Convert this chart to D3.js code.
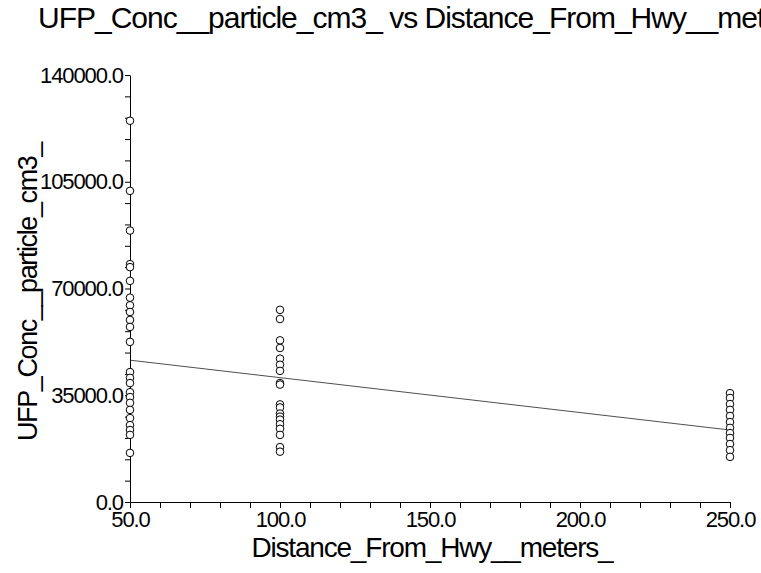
<!DOCTYPE html>
<html>
<head>
<meta charset="utf-8">
<script src="https://cdn.jsdelivr.net/npm/d3@7"></script>
<style>
  body { margin: 0; background: #fff; }
  svg { display: block; font-family: "Liberation Sans", Arial, sans-serif; }
</style>
</head>
<body>
<svg></svg>
<script>
const width = 761, height = 573;

// readings
const distances = [50, 100, 250];
const ufp50 = [125000, 102000, 89000, 78000, 77000, 72500, 67000, 64500, 62300, 59700,
  57400, 52500, 42600, 40700, 39000, 36000, 34400, 32500, 30200, 27500, 25200, 23600, 22000, 16100];
const ufp100 = [63000, 60000, 53000, 50500, 47000, 45000, 43000, 39000, 38500, 32000,
  31000, 29000, 28000, 27000, 25500, 24000, 22000, 18000, 16500];
const ufp250 = [35700, 34100, 32100, 30200, 28200, 26200, 24300, 22600, 21000, 19000, 17000, 14800];
const fitLine = [[50, 46500], [250, 23600]];
const yTicks = [0, 35000, 70000, 105000, 140000];
const xTicks = [50, 100, 150, 200, 250];

const svg = d3.select('svg').attr('width', width).attr('height', height);
svg.append('rect').attr('width', width).attr('height', height).attr('fill', '#fff');

const x = d3.scaleLinear().domain([50, 250]).range([130, 730]);
const y = d3.scaleLinear().domain([0, 140000]).range([502, 75]);

const fmt = d3.format('.1f');

// y axis, minor ticks every 7000
svg.append('g').attr('transform', 'translate(130,0)')
  .call(d3.axisLeft(y).tickValues(d3.range(0, 140001, 7000)).tickSize(5).tickSizeOuter(0).tickPadding(2)
    .tickFormat(d => yTicks.includes(d) ? fmt(d) : ''));

// x axis, minor ticks every 10
svg.append('g').attr('transform', 'translate(0,502)')
  .call(d3.axisBottom(x).tickValues(d3.range(50, 251, 10)).tickSize(6).tickSizeOuter(0).tickPadding(3)
    .tickFormat(d => xTicks.includes(d) ? fmt(d) : ''));

svg.selectAll('.tick text').attr('font-size', 22).attr('fill', '#000')
  .attr('font-family', '"Liberation Sans", Arial, sans-serif').attr('letter-spacing', -1.1);
svg.selectAll('.domain, .tick line').attr('stroke', '#000');

// fit line
svg.append('line')
  .attr('x1', x(fitLine[0][0])).attr('y1', y(fitLine[0][1]))
  .attr('x2', x(fitLine[1][0])).attr('y2', y(fitLine[1][1]))
  .attr('stroke', '#222').attr('stroke-width', 0.8);

const pts = [];
[ufp50, ufp100, ufp250].forEach((arr, i) => arr.forEach(v => pts.push([distances[i], v])));

svg.append('g').selectAll('circle').data(pts).enter().append('circle')
  .attr('cx', d => x(d[0])).attr('cy', d => y(d[1])).attr('r', 3.8)
  .attr('fill', '#fff').attr('stroke', '#000').attr('stroke-width', 1);

// titles (main title runs off the right edge, as in the original)
svg.append('text').attr('x', 38).attr('y', 28)
  .attr('font-size', 30).attr('letter-spacing', -1.0)
  .text('UFP_Conc__particle_cm3_ vs Distance_From_Hwy__meters_');

svg.append('text').attr('x', 432).attr('y', 557).attr('text-anchor', 'middle')
  .attr('font-size', 28).attr('letter-spacing', -1.2)
  .text('Distance_From_Hwy__meters_');

svg.append('text').attr('transform', 'translate(37,292) rotate(-90)').attr('text-anchor', 'middle')
  .attr('font-size', 27).attr('letter-spacing', -1.4)
  .text('UFP_Conc__particle_cm3_');
</script>
</body>
</html>
